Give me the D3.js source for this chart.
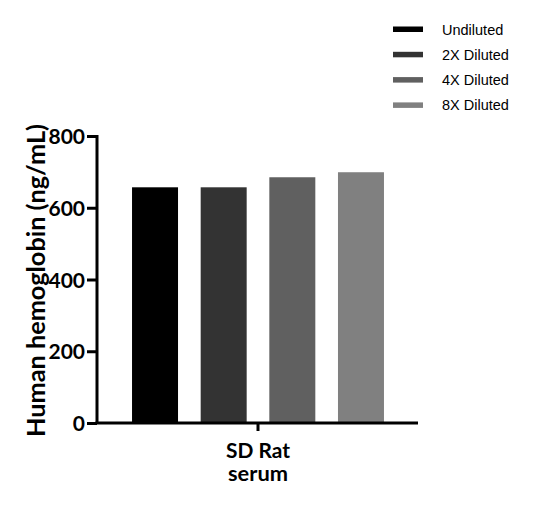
<!DOCTYPE html>
<html><head><meta charset="utf-8">
<script src="https://cdn.jsdelivr.net/npm/d3@7"></script>
<style>body{margin:0;background:#fff}</style>
</head><body>
<script>
const categories = ["Undiluted", "2X Diluted", "4X Diluted", "8X Diluted"];
const values = [657, 657, 685, 699];
const colors = ["#000000", "#333333", "#606060", "#808080"];
const yTicks = [0, 200, 400, 600, 800];
const groupLabel = ["SD Rat", "serum"];
const yTitle = "Human hemoglobin (ng/mL)";

const W = 533, H = 507;
const svg = d3.select("body").append("svg").attr("width", W).attr("height", H);
const x0 = 97, x1 = 418, yTop = 136, yBot = 423;
const y = d3.scaleLinear().domain([0, 800]).range([yBot, yTop]);
const x = d3.scaleBand().domain(categories).range([118.3, 397.7]).paddingInner(0.33).paddingOuter(0.2);

svg.selectAll("rect.bar").data(values).enter().append("rect")
  .attr("x", (d, i) => x(categories[i]))
  .attr("width", x.bandwidth())
  .attr("y", d => y(d))
  .attr("height", d => yBot - y(d))
  .attr("fill", (d, i) => colors[i]);

const fontBold = "'Lato','DejaVu Sans',sans-serif";
const yAxis = svg.append("g").attr("transform", `translate(${x0},0)`)
  .call(d3.axisLeft(y).tickValues(yTicks).tickSize(10).tickPadding(2).tickFormat(d3.format("d")));
yAxis.select(".domain").attr("stroke-width", 3).attr("d", `M0,${yTop - 1}V${yBot}`);
yAxis.selectAll(".tick line").attr("stroke-width", 3);
yAxis.selectAll(".tick text").attr("font-family", fontBold).attr("font-weight", "bold")
  .attr("font-size", 21).attr("fill", "#000").attr("dy", "0.36em");

// x axis
svg.append("line").attr("x1", x0 - 1.5).attr("x2", x1).attr("y1", yBot).attr("y2", yBot)
  .attr("stroke", "#000").attr("stroke-width", 3);
const cx = (x0 + x1) / 2 + 0.5;
svg.append("line").attr("x1", cx).attr("x2", cx).attr("y1", yBot).attr("y2", yBot + 8)
  .attr("stroke", "#000").attr("stroke-width", 3);
const labelW = [64, 60];
svg.selectAll("text.xl").data(groupLabel).enter().append("text")
  .attr("x", cx).attr("y", (d, i) => 458 + i * 23).attr("text-anchor", "middle")
  .attr("font-family", fontBold).attr("font-weight", "bold").attr("font-size", 20)
  .attr("textLength", (d, i) => labelW[i]).attr("lengthAdjust", "spacingAndGlyphs")
  .text(d => d);

svg.append("text").attr("transform", `translate(45,${(yTop + yBot) / 2 + 1}) rotate(-90)`)
  .attr("text-anchor", "middle").attr("font-family", fontBold).attr("font-weight", "bold")
  .attr("font-size", 25).attr("textLength", 313).attr("lengthAdjust", "spacingAndGlyphs").text(yTitle);

// legend
const lg = svg.append("g");
categories.forEach((c, i) => {
  const ly = 29 + i * 25.3;
  lg.append("rect").attr("x", 393).attr("y", ly - 2.5).attr("width", 30).attr("height", 5.5).attr("fill", colors[i]);
  lg.append("text").attr("x", 442).attr("y", ly + 5.5).attr("font-family", "Arial,'Liberation Sans',sans-serif")
    .attr("font-size", 14.5).text(c);
});
</script>
</body></html>
